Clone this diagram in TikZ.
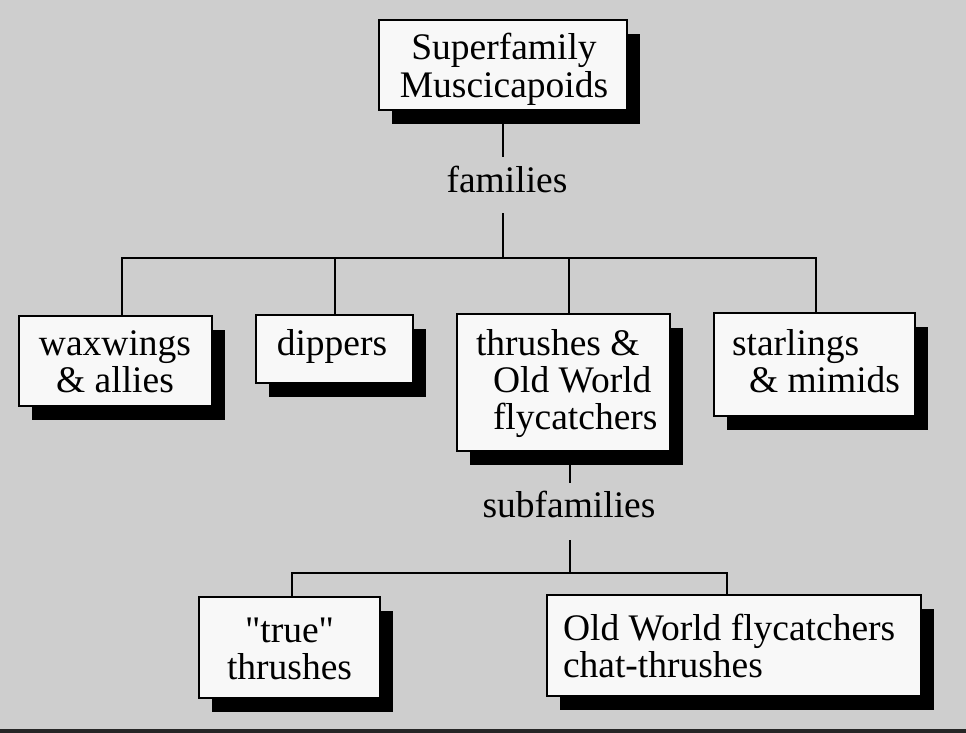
\documentclass[tikz,border=0pt]{standalone}
\usepackage{fontspec}
\setmainfont{Liberation Serif}
\usetikzlibrary{shadows}
\definecolor{paper}{RGB}{206,206,206}
\definecolor{cardfill}{RGB}{248,248,248}
% stacked lines whose baseline is the first line's
\newcommand{\linesof}[2][c]{\begin{tabular}[t]{@{}#1@{}}#2\end{tabular}}
\begin{document}
\begin{tikzpicture}[x=1pt,y=-1pt,
  card/.style={rectangle, draw=black, line width=2pt, fill=cardfill,
    inner sep=0pt, outer sep=0pt,
    drop shadow={shadow xshift=13pt, shadow yshift=-14pt, fill=black, opacity=1}},
  words/.style={font=\fontsize{37.5}{37}\selectfont, inner sep=0pt, outer sep=0pt},
  link/.style={line width=2.2pt, draw=black}]
% page
\fill[paper] (0,0) rectangle (966,733);
\useasboundingbox (0,0) rectangle (966,733);
\fill[black!85] (0,729) rectangle (966,733);

% boxes
\node[card, minimum width=248pt, minimum height=90pt]  (sup) at (503,65) {};
\node[card, minimum width=193pt, minimum height=90pt]  (wax) at (115.5,361) {};
\node[card, minimum width=157pt, minimum height=68pt]  (dip) at (334.5,349) {};
\node[card, minimum width=213pt, minimum height=137pt] (thr) at (563.5,382.5) {};
\node[card, minimum width=201pt, minimum height=103pt] (sta) at (814.5,364.5) {};
\node[card, minimum width=181pt, minimum height=101pt] (tru) at (289.5,647.5) {};
\node[card, minimum width=374pt, minimum height=101pt] (owf) at (734,645.5) {};

% box texts
\node[words, anchor=base] (supT) at (504,60) {\linesof{Superfamily\\Muscicapoids}};
\node[words, anchor=base] (waxT) at (115,355) {\linesof{waxwings\\\& allies}};
\node[words, anchor=base] (dipT) at (332,355) {dippers};
\node[words, anchor=base west] (thrT) at (476,355)
  {\linesof[l]{thrushes \&\\\hspace*{17pt}Old World\\\hspace*{17pt}flycatchers}};
\node[words, anchor=base west] (staT) at (732,355)
  {\linesof[l]{starlings\\\hspace*{17pt}\& mimids}};
\node[words, anchor=base] (truT) at (289.5,642)
  {\linesof{\textquotedbl true\textquotedbl\\thrushes}};
\node[words, anchor=base west] (owfT) at (563,640)
  {\linesof[l]{Old World flycatchers\\chat-thrushes}};

% level labels
\node[words, anchor=base, text height=35pt, text depth=21pt] (fam) at (507,192) {families};
\node[words, anchor=base, text height=34pt, text depth=23pt] (sub) at (569,517) {subfamilies};

% family bus
\coordinate (bus) at (503,258);
\draw[link] (sup.south) -- (sup.south |- fam.north);
\draw[link] (sup.south |- fam.south) -- (bus);
\draw[link] ([xshift=6.5pt]wax.north) |- (bus) -| ([xshift=1.5pt]sta.north);
\draw[link] ([xshift=0.5pt]dip.north) |- (bus);
\draw[link] ([xshift=5.5pt]thr.north) |- (bus);

% subfamily bus
\coordinate (sbus) at (570,573);
\draw[link] ([xshift=6.5pt]thr.south) -- ([xshift=6.5pt]thr.south |- sub.north);
\draw[link] ([xshift=6.5pt]thr.south |- sub.south) -- (sbus);
\draw[link] ([xshift=2.5pt]tru.north) |- (sbus) -| ([xshift=-7pt]owf.north);
\end{tikzpicture}
\end{document}
